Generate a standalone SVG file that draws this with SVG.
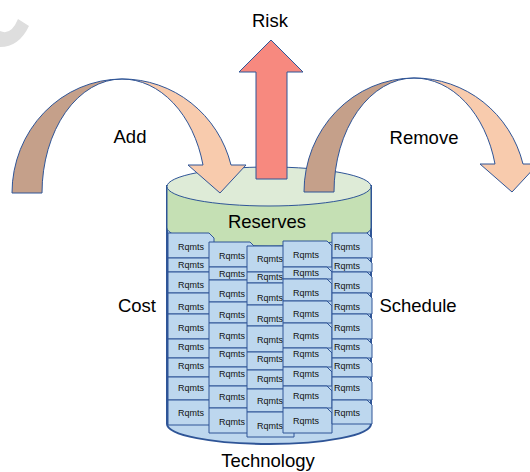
<svg xmlns="http://www.w3.org/2000/svg" width="530" height="472" viewBox="0 0 530 472">
<style>
.ln{stroke:#2F5597;stroke-width:1;stroke-linejoin:round}
.rq{fill:#BDD7EE;stroke:#2F5597;stroke-width:1}
.rt{font-family:"Liberation Sans",Arial,sans-serif;font-size:9px;fill:#111;text-anchor:middle}
.lb{font-family:"Liberation Sans",Arial,sans-serif;font-size:18.5px;fill:#000;text-anchor:middle}
.dk{fill:#C5A08A}
.lt{fill:#F8CBAD}
</style>
<defs>
<g id="curved">
<path class="ln dk" d="M12,193 A110,114 0 0 1 122,79 A80,114 0 0 0 42,193 Z"/>
<path class="ln lt" d="M122,79 A112,114 0 0 1 231,165 L246,165 L220,193 L188,165 L203,165 A83.6,114 0 0 0 122,79 Z"/>
</g>
</defs>
<rect width="530" height="472" fill="#fff"/>
<path d="M0,31 Q11,36 18,19 L29,26 Q19,47 0,47 Z" fill="#dedede"/>

<g id="cylinder">
<path d="M167,186 L167,424 A102,20 0 0 0 371,424 L371,186 Z" fill="#BDD7EE" stroke="#2F5597" stroke-width="2"/>
<path d="M167,186 L167,228 A102,18 0 0 0 371,228 L371,186 Z" fill="#C5E0B4" stroke="#2F5597" stroke-width="1"/>
<ellipse cx="269" cy="186.5" rx="102" ry="19.5" fill="#DEEBD7" stroke="#2F5597" stroke-width="1"/>
<text class="lb" x="267" y="228">Reserves</text>
</g>

<g id="rqmts-col1">
<polygon class="rq" points="168,233 209,233 214,238 214,258 168,258"/>
<polygon class="rq" points="168,258 209,258 214,263 214,272 168,272"/>
<polygon class="rq" points="168,272 209,272 214,277 214,293 168,293"/>
<polygon class="rq" points="168,293 209,293 214,298 214,314 168,314"/>
<polygon class="rq" points="168,314 209,314 214,319 214,339 168,339"/>
<polygon class="rq" points="168,339 209,339 214,344 214,358 168,358"/>
<polygon class="rq" points="168,358 209,358 214,363 214,377 168,377"/>
<polygon class="rq" points="168,377 209,377 214,382 214,400 168,400"/>
<polygon class="rq" points="168,400 209,400 214,405 214,425 168,425"/>
<text class="rt" x="191" y="250">Rqmts</text>
<text class="rt" x="191" y="268">Rqmts</text>
<text class="rt" x="191" y="288">Rqmts</text>
<text class="rt" x="191" y="310">Rqmts</text>
<text class="rt" x="191" y="331">Rqmts</text>
<text class="rt" x="191" y="350">Rqmts</text>
<text class="rt" x="191" y="369">Rqmts</text>
<text class="rt" x="191" y="391">Rqmts</text>
<text class="rt" x="191" y="416">Rqmts</text>
</g>

<g id="rqmts-col2">
<polygon class="rq" points="209,242 250,242 255,247 255,267 209,267"/>
<polygon class="rq" points="209,267 250,267 255,272 255,280 209,280"/>
<polygon class="rq" points="209,280 250,280 255,285 255,302 209,302"/>
<polygon class="rq" points="209,302 250,302 255,307 255,323 209,323"/>
<polygon class="rq" points="209,323 250,323 255,328 255,348 209,348"/>
<polygon class="rq" points="209,348 250,348 255,353 255,367 209,367"/>
<polygon class="rq" points="209,367 250,367 255,372 255,386 209,386"/>
<polygon class="rq" points="209,386 250,386 255,391 255,408 209,408"/>
<polygon class="rq" points="209,408 250,408 255,413 255,433 209,433"/>
<text class="rt" x="232" y="259">Rqmts</text>
<text class="rt" x="232" y="277">Rqmts</text>
<text class="rt" x="232" y="297">Rqmts</text>
<text class="rt" x="232" y="318">Rqmts</text>
<text class="rt" x="232" y="339">Rqmts</text>
<text class="rt" x="232" y="357">Rqmts</text>
<text class="rt" x="232" y="377">Rqmts</text>
<text class="rt" x="232" y="400">Rqmts</text>
<text class="rt" x="232" y="425">Rqmts</text>
</g>

<g id="rqmts-col3">
<polygon class="rq" points="247,246 289,246 294,251 294,272 247,272"/>
<polygon class="rq" points="247,272 289,272 294,277 294,283 247,283"/>
<polygon class="rq" points="247,283 289,283 294,288 294,305 247,305"/>
<polygon class="rq" points="247,305 289,305 294,310 294,326 247,326"/>
<polygon class="rq" points="247,326 289,326 294,331 294,352 247,352"/>
<polygon class="rq" points="247,352 289,352 294,357 294,370 247,370"/>
<polygon class="rq" points="247,370 289,370 294,375 294,389 247,389"/>
<polygon class="rq" points="247,389 289,389 294,394 294,412 247,412"/>
<polygon class="rq" points="247,412 289,412 294,417 294,437 247,437"/>
<text class="rt" x="270" y="262">Rqmts</text>
<text class="rt" x="270" y="280">Rqmts</text>
<text class="rt" x="270" y="301">Rqmts</text>
<text class="rt" x="270" y="322">Rqmts</text>
<text class="rt" x="270" y="343">Rqmts</text>
<text class="rt" x="270" y="362">Rqmts</text>
<text class="rt" x="270" y="382">Rqmts</text>
<text class="rt" x="270" y="404">Rqmts</text>
<text class="rt" x="270" y="429">Rqmts</text>
</g>

<g id="rqmts-col4">
<polygon class="rq" points="283,241 327,241 332,246 332,267 283,267"/>
<polygon class="rq" points="283,267 327,267 332,272 332,279 283,279"/>
<polygon class="rq" points="283,279 327,279 332,284 332,301 283,301"/>
<polygon class="rq" points="283,301 327,301 332,306 332,323 283,323"/>
<polygon class="rq" points="283,323 327,323 332,328 332,348 283,348"/>
<polygon class="rq" points="283,348 327,348 332,353 332,367 283,367"/>
<polygon class="rq" points="283,367 327,367 332,372 332,386 283,386"/>
<polygon class="rq" points="283,386 327,386 332,391 332,408 283,408"/>
<polygon class="rq" points="283,408 327,408 332,413 332,433 283,433"/>
<text class="rt" x="306" y="258">Rqmts</text>
<text class="rt" x="306" y="276">Rqmts</text>
<text class="rt" x="306" y="296">Rqmts</text>
<text class="rt" x="306" y="317">Rqmts</text>
<text class="rt" x="306" y="339">Rqmts</text>
<text class="rt" x="306" y="357">Rqmts</text>
<text class="rt" x="306" y="377">Rqmts</text>
<text class="rt" x="306" y="399">Rqmts</text>
<text class="rt" x="306" y="424">Rqmts</text>
</g>

<g id="rqmts-col5">
<polygon class="rq" points="332,233 367,233 372,238 372,258 332,258"/>
<polygon class="rq" points="332,258 367,258 372,263 372,272 332,272"/>
<polygon class="rq" points="332,272 367,272 372,277 372,293 332,293"/>
<polygon class="rq" points="332,293 367,293 372,298 372,314 332,314"/>
<polygon class="rq" points="332,314 367,314 372,319 372,339 332,339"/>
<polygon class="rq" points="332,339 367,339 372,344 372,358 332,358"/>
<polygon class="rq" points="332,358 367,358 372,363 372,377 332,377"/>
<polygon class="rq" points="332,377 367,377 372,382 372,400 332,400"/>
<polygon class="rq" points="332,400 367,400 372,405 372,424 332,424"/>
<text class="rt" x="347" y="250">Rqmts</text>
<text class="rt" x="347" y="269">Rqmts</text>
<text class="rt" x="347" y="289">Rqmts</text>
<text class="rt" x="347" y="310">Rqmts</text>
<text class="rt" x="347" y="331">Rqmts</text>
<text class="rt" x="347" y="350">Rqmts</text>
<text class="rt" x="347" y="369">Rqmts</text>
<text class="rt" x="347" y="391">Rqmts</text>
<text class="rt" x="347" y="416">Rqmts</text>
</g>

<g id="connectors">
<g id="add-arrow"><use href="#curved"/></g>
<g id="remove-arrow"><use href="#curved" transform="translate(292,-1)"/></g>
<g id="risk-arrow"><polygon class="ln" fill="#F7897F" points="256,179 256,72 239,72 271,40 303,72 287,72 287,179"/></g>
</g>

<g id="labels">
<text class="lb" x="270" y="27">Risk</text>
<text class="lb" x="130" y="143">Add</text>
<text class="lb" x="424" y="144">Remove</text>
<text class="lb" x="137" y="312">Cost</text>
<text class="lb" x="418" y="312">Schedule</text>
<text class="lb" x="268" y="467">Technology</text>
</g>
</svg>
